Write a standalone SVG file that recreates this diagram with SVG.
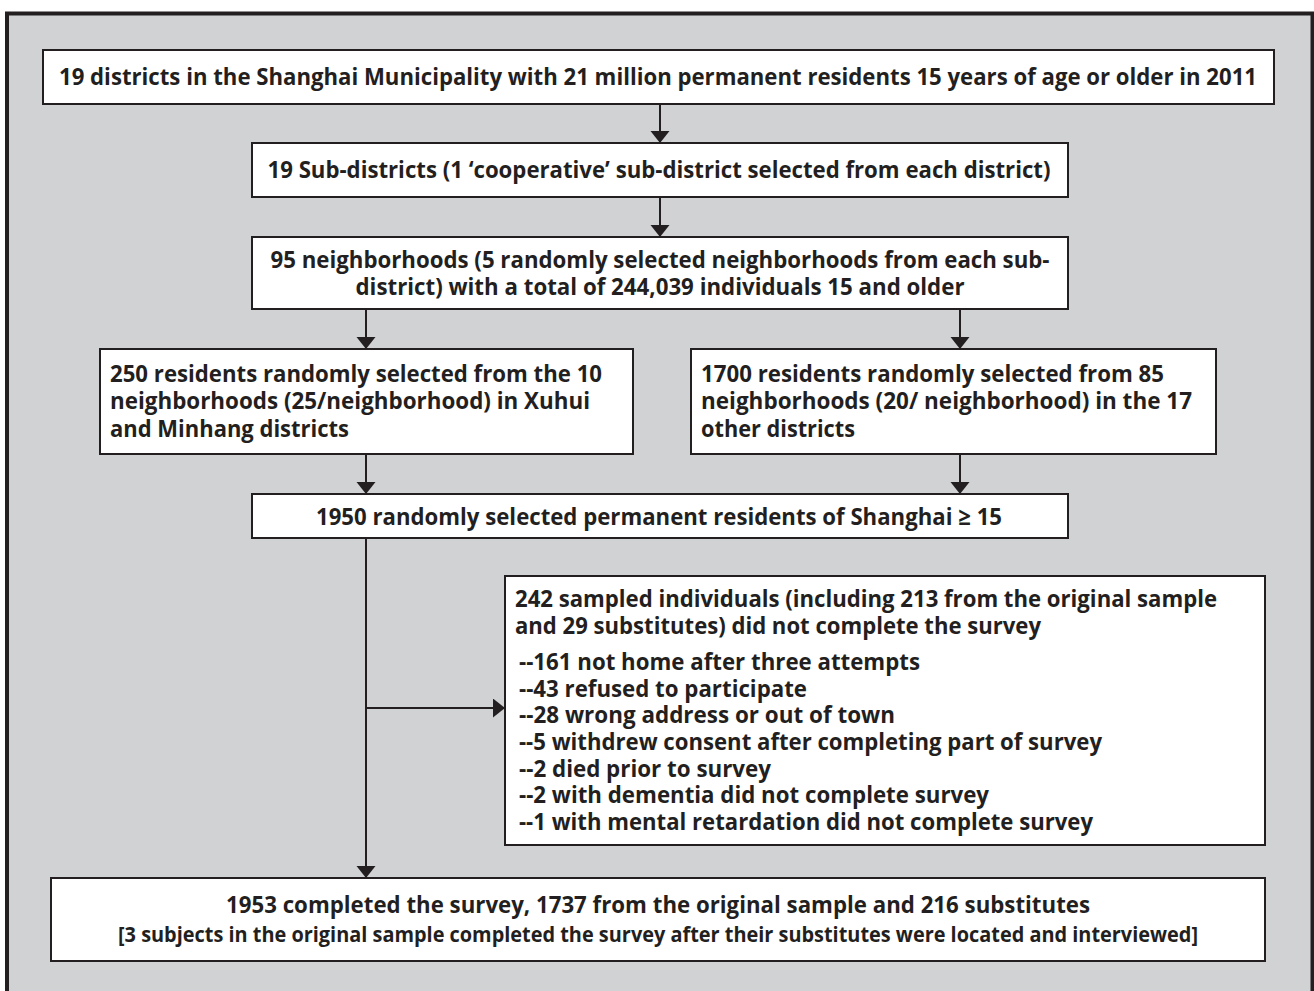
<svg xmlns="http://www.w3.org/2000/svg" width="1314" height="991" viewBox="0 0 1314 991">
<defs>
<style>
.box{fill:#ffffff;stroke:#231f20;stroke-width:2}
.t{font-family:"Open Sans","Noto Sans","Liberation Sans",sans-serif;font-weight:700;font-size:23.5px;fill:#231f20}
.s{font-size:21.2px}
.c{text-anchor:middle}
.con{stroke:#231f20;stroke-width:2;fill:none}
</style>
<marker id="ah" markerUnits="userSpaceOnUse" markerWidth="12" markerHeight="20" refX="12" refY="9.5" orient="auto">
<path d="M0,0 L12,9.5 L0,19 Z" fill="#231f20"/>
</marker>
</defs>
<rect x="0" y="0" width="1314" height="991" fill="#ffffff"/>
<rect x="7" y="13.5" width="1305.5" height="1000" fill="#d1d2d4" stroke="#231f20" stroke-width="4"/>

<g id="connectors">
<line class="con" x1="660" y1="104" x2="660" y2="143" marker-end="url(#ah)"/>
<line class="con" x1="660" y1="197" x2="660" y2="237" marker-end="url(#ah)"/>
<line class="con" x1="366" y1="309" x2="366" y2="349" marker-end="url(#ah)"/>
<line class="con" x1="960" y1="309" x2="960" y2="349" marker-end="url(#ah)"/>
<line class="con" x1="366" y1="454" x2="366" y2="494" marker-end="url(#ah)"/>
<line class="con" x1="960" y1="454" x2="960" y2="494" marker-end="url(#ah)"/>
<line class="con" x1="366" y1="538" x2="366" y2="878" marker-end="url(#ah)"/>
<line class="con" x1="366" y1="708" x2="505" y2="708" marker-end="url(#ah)"/>
</g>

<g id="n1">
<rect class="box" x="43" y="50" width="1231" height="54"/>
<text class="t c" x="658" y="85" textLength="1198" lengthAdjust="spacingAndGlyphs">19 districts in the Shanghai Municipality with 21 million permanent residents 15 years of age or older in 2011</text>
</g>
<g id="n2">
<rect class="box" x="252" y="143" width="816" height="54"/>
<text class="t c" x="659" y="178" textLength="783" lengthAdjust="spacingAndGlyphs">19 Sub-districts (1 ‘cooperative’ sub-district selected from each district)</text>
</g>
<g id="n3">
<rect class="box" x="252" y="237" width="816" height="72"/>
<text class="t c" x="660" y="268" textLength="779" lengthAdjust="spacingAndGlyphs">95 neighborhoods (5 randomly selected neighborhoods from each sub-</text>
<text class="t c" x="660" y="295" textLength="609" lengthAdjust="spacingAndGlyphs">district) with a total of 244,039 individuals 15 and older</text>
</g>
<g id="n4">
<rect class="box" x="100" y="349" width="533" height="105"/>
<text class="t" x="110" y="382" textLength="492" lengthAdjust="spacingAndGlyphs">250 residents randomly selected from the 10</text>
<text class="t" x="110" y="409.3" textLength="480" lengthAdjust="spacingAndGlyphs">neighborhoods (25/neighborhood) in Xuhui</text>
<text class="t" x="110" y="436.7" textLength="239" lengthAdjust="spacingAndGlyphs">and Minhang districts</text>
</g>
<g id="n5">
<rect class="box" x="691" y="349" width="525" height="105"/>
<text class="t" x="701" y="382" textLength="463" lengthAdjust="spacingAndGlyphs">1700 residents randomly selected from 85</text>
<text class="t" x="701" y="409.3" textLength="491" lengthAdjust="spacingAndGlyphs">neighborhoods (20/ neighborhood) in the 17</text>
<text class="t" x="701" y="436.7" textLength="154" lengthAdjust="spacingAndGlyphs">other districts</text>
</g>
<g id="n6">
<rect class="box" x="252" y="494" width="816" height="44"/>
<text class="t c" x="659" y="525" textLength="686" lengthAdjust="spacingAndGlyphs">1950 randomly selected permanent residents of Shanghai ≥ 15</text>
</g>
<g id="n8">
<rect class="box" x="505" y="576" width="760" height="269"/>
<text class="t" x="515" y="607" textLength="702" lengthAdjust="spacingAndGlyphs">242 sampled individuals (including 213 from the original sample</text>
<text class="t" x="515" y="633.5" textLength="526" lengthAdjust="spacingAndGlyphs">and 29 substitutes) did not complete the survey</text>
<text class="t" x="519" y="670" textLength="401" lengthAdjust="spacingAndGlyphs">--161 not home after three attempts</text>
<text class="t" x="519" y="696.7" textLength="288" lengthAdjust="spacingAndGlyphs">--43 refused to participate</text>
<text class="t" x="519" y="723.3" textLength="376" lengthAdjust="spacingAndGlyphs">--28 wrong address or out of town</text>
<text class="t" x="519" y="750" textLength="583" lengthAdjust="spacingAndGlyphs">--5 withdrew consent after completing part of survey</text>
<text class="t" x="519" y="776.7" textLength="252" lengthAdjust="spacingAndGlyphs">--2 died prior to survey</text>
<text class="t" x="519" y="803.3" textLength="470" lengthAdjust="spacingAndGlyphs">--2 with dementia did not complete survey</text>
<text class="t" x="519" y="830" textLength="574" lengthAdjust="spacingAndGlyphs">--1 with mental retardation did not complete survey</text>
</g>
<g id="n7">
<rect class="box" x="51" y="878" width="1214" height="83"/>
<text class="t c" x="658" y="913" textLength="864" lengthAdjust="spacingAndGlyphs">1953 completed the survey, 1737 from the original sample and 216 substitutes</text>
<text class="t s c" x="658" y="942" textLength="1080" lengthAdjust="spacingAndGlyphs">[3 subjects in the original sample completed the survey after their substitutes were located and interviewed]</text>
</g>
</svg>
